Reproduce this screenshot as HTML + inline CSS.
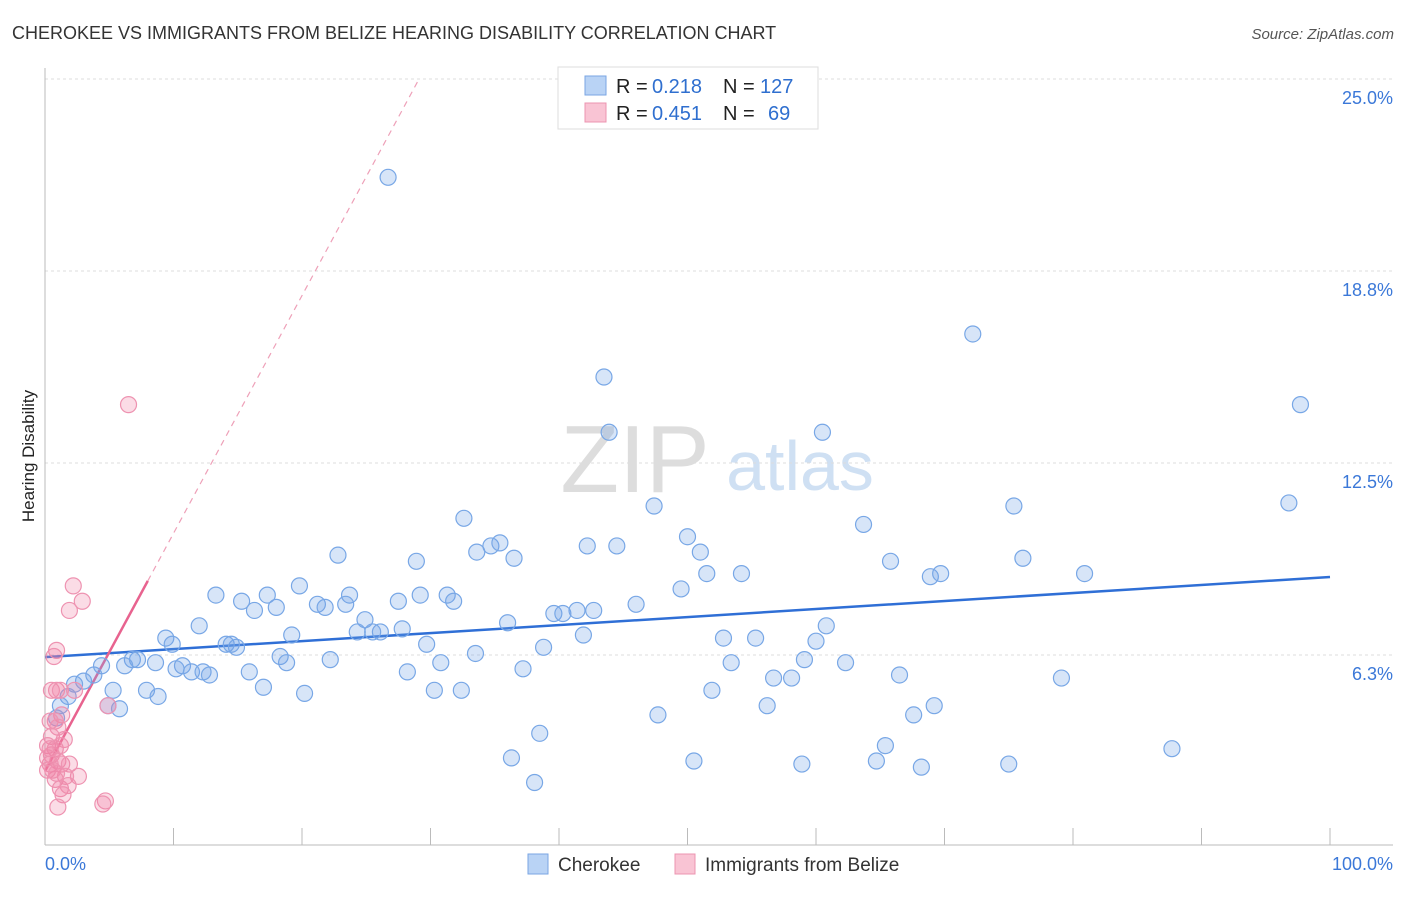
<!DOCTYPE html>
<html><head><meta charset="utf-8"><style>
body{margin:0;background:#fff;font-family:"Liberation Sans",sans-serif}
svg text{font-family:"Liberation Sans",sans-serif}
</style></head><body>
<svg id="chart" width="1406" height="892" xmlns="http://www.w3.org/2000/svg">
<text x="12" y="39" font-size="18" fill="#333">CHEROKEE VS IMMIGRANTS FROM BELIZE HEARING DISABILITY CORRELATION CHART</text>
<text x="1394" y="39" font-size="15" fill="#555" font-style="italic" text-anchor="end">Source: ZipAtlas.com</text>
<text x="34" y="456" font-size="17" fill="#222" text-anchor="middle" transform="rotate(-90 34 456)">Hearing Disability</text>
<g>
<text x="635" y="492" font-size="96" fill="#ddd" font-family="Liberation Serif" text-anchor="middle">ZIP</text>
<text x="800" y="490" font-size="70" fill="#cfe0f3" text-anchor="middle">atlas</text>
</g>
<g id="grid"></g><g id="axes"></g><g id="lines"></g><g id="points"></g>
<g>
<rect x="558" y="67" width="260" height="62" fill="#fff" stroke="#ddd"/>
<rect x="585" y="76" width="21" height="19" fill="#b9d3f5" stroke="#7aa6e3"/>
<rect x="585" y="103" width="21" height="19" fill="#f9c4d4" stroke="#ec94b0"/>
<text x="616" y="93" font-size="20" fill="#222">R =</text>
<text x="652" y="93" font-size="20" fill="#2f6fcf">0.218</text>
<text x="723" y="93" font-size="20" fill="#222">N =</text>
<text x="760" y="93" font-size="20" fill="#2f6fcf">127</text>
<text x="616" y="120" font-size="20" fill="#222">R =</text>
<text x="652" y="120" font-size="20" fill="#2f6fcf">0.451</text>
<text x="723" y="120" font-size="20" fill="#222">N =</text>
<text x="768" y="120" font-size="20" fill="#2f6fcf">69</text>
</g>
<g>
<rect x="528" y="854" width="20" height="20" fill="#b9d3f5" stroke="#7aa6e3"/>
<text x="558" y="871" font-size="19" fill="#333">Cherokee</text>
<rect x="675" y="854" width="20" height="20" fill="#f9c4d4" stroke="#ec94b0"/>
<text x="705" y="871" font-size="19" fill="#333">Immigrants from Belize</text>
</g>
<text x="45" y="870" font-size="18" fill="#3b78d8">0.0%</text>
<text x="1393" y="870" font-size="18" fill="#3b78d8" text-anchor="end">100.0%</text>
</svg>
<script>
const yTicks=[6.25,12.5,18.75,25];
const yTickLabels=["6.3%","12.5%","18.8%","25.0%"];
const xTicks=[0,10,20,30,40,50,60,70,80,90,100];
const blueX=[26.7,43.5,72.2,97.7,60.5,43.9,32.6,47.4,63.7,75.4,96.8,22.8,28.9,33.6,34.7,35.4,36.5,42.2,44.5,50.0,51.0,51.5,54.2,65.8,68.9,69.7,76.1,80.9,19.8,23.7,13.3,15.3,17.3,16.3,18.0,21.2,21.8,23.4,27.5,29.2,31.3,31.8,39.6,40.3,41.4,42.7,46.0,49.5,36.0,24.9,26.1,27.8,24.3,25.5,19.2,12.0,9.4,9.9,14.1,14.9,14.5,41.9,52.8,55.3,60.0,60.8,29.7,38.8,33.5,18.3,18.8,22.2,30.8,8.6,10.7,11.4,12.3,12.8,10.2,6.8,7.2,6.2,4.4,3.8,3.0,2.3,1.8,1.2,0.9,5.3,7.9,8.8,4.9,5.8,17.0,20.2,28.2,30.3,32.4,37.2,53.4,59.1,62.3,51.9,56.7,58.1,66.5,79.1,56.2,47.7,67.6,69.2,38.5,36.3,38.1,50.5,58.9,65.4,64.7,68.2,75.0,87.7,15.9];
const blueY=[21.8,15.3,16.7,14.4,13.5,13.5,10.7,11.1,10.5,11.1,11.2,9.5,9.3,9.6,9.8,9.9,9.4,9.8,9.8,10.1,9.6,8.9,8.9,9.3,8.8,8.9,9.4,8.9,8.5,8.2,8.2,8.0,8.2,7.7,7.8,7.9,7.8,7.9,8.0,8.2,8.2,8.0,7.6,7.6,7.7,7.7,7.9,8.4,7.3,7.4,7.0,7.1,7.0,7.0,6.9,7.2,6.8,6.6,6.6,6.5,6.6,6.9,6.8,6.8,6.7,7.2,6.6,6.5,6.3,6.2,6.0,6.1,6.0,6.0,5.9,5.7,5.7,5.6,5.8,6.1,6.1,5.9,5.9,5.6,5.4,5.3,4.9,4.6,4.2,5.1,5.1,4.9,4.6,4.5,5.2,5.0,5.7,5.1,5.1,5.8,6.0,6.1,6.0,5.1,5.5,5.5,5.6,5.5,4.6,4.3,4.3,4.6,3.7,2.9,2.1,2.8,2.7,3.3,2.8,2.6,2.7,3.2,5.7];
const pinkX=[6.5,2.2,2.9,1.9,0.9,0.7,0.9,0.5,1.2,2.3,1.3,0.8,0.4,1.0,0.5,1.5,0.2,0.8,0.5,1.0,1.3,0.4,1.9,2.6,1.6,0.8,1.2,1.8,1.4,1.0,4.7,4.5,4.9,0.2,0.6,0.9,0.2,0.4,1.2];
const pinkY=[14.4,8.5,8.0,7.7,6.4,6.2,5.1,5.1,5.1,5.1,4.3,4.1,4.1,3.9,3.6,3.5,3.3,3.2,3.0,2.8,2.7,2.7,2.7,2.3,2.3,2.2,1.9,2.0,1.7,1.3,1.5,1.4,4.6,2.5,2.5,2.4,2.9,3.2,3.3];
const blueTrend=[6.18,8.79];
const pinkTrend=[2.47,0.774,8.0];
const NS="http://www.w3.org/2000/svg";
const X=v=>45+v*12.85, Y=v=>847-v*30.72;
function mk(tag,attrs,parent){const e=document.createElementNS(NS,tag);for(const k in attrs)e.setAttribute(k,attrs[k]);parent.appendChild(e);return e;}
const grid=document.getElementById('grid'),axes=document.getElementById('axes'),lines=document.getElementById('lines'),pts=document.getElementById('points');
yTicks.forEach((t,i)=>{
 const l=mk('line',{x1:45,x2:1393,y1:Y(t),y2:Y(t),stroke:'#ddd','stroke-dasharray':'3,3'},grid);
 
 
 const tx=mk('text',{x:1393,y:Y(t)+25,'font-size':18,fill:'#3b78d8','text-anchor':'end'},grid);
 tx.textContent=yTickLabels[i];
 
 
});
const ax=mk('line',{x1:45,x2:45,y1:68,y2:845,stroke:'#bbb'},axes);


const bx=mk('line',{x1:45,x2:1393,y1:845,y2:845,stroke:'#bbb'},axes);


xTicks.forEach(t=>{
 const l=mk('line',{x1:X(t),x2:X(t),y1:828,y2:845,stroke:'#bbb'},axes);
 
 
});
blueX.forEach((v,i)=>{
 const c=mk('circle',{cx:X(v),cy:Y(blueY[i]),r:8,fill:'rgba(110,160,230,0.28)',stroke:'#78a7e6','stroke-width':1.2},pts);
 
 
});
pinkX.forEach((v,i)=>{
 const c=mk('circle',{cx:X(v),cy:Y(pinkY[i]),r:8,fill:'rgba(240,130,165,0.28)',stroke:'#ee93b1','stroke-width':1.2},pts);
 
 
});
const bl=mk('line',{x1:X(0),y1:Y(blueTrend[0]),x2:X(100),y2:Y(blueTrend[1]),stroke:'#2f6fd6','stroke-width':2.5},lines);


const pEnd=pinkTrend[2], pDash=(25-pinkTrend[0])/pinkTrend[1];
const ps=mk('line',{x1:X(0),y1:Y(pinkTrend[0]),x2:X(pEnd),y2:Y(pinkTrend[0]+pinkTrend[1]*pEnd),stroke:'#e8638f','stroke-width':2.5},lines);


const pd=mk('line',{x1:X(pEnd),y1:Y(pinkTrend[0]+pinkTrend[1]*pEnd),x2:X(pDash),y2:Y(25),stroke:'#eea0b8','stroke-width':1.2,'stroke-dasharray':'6,5'},lines);


</script>
</body></html>
